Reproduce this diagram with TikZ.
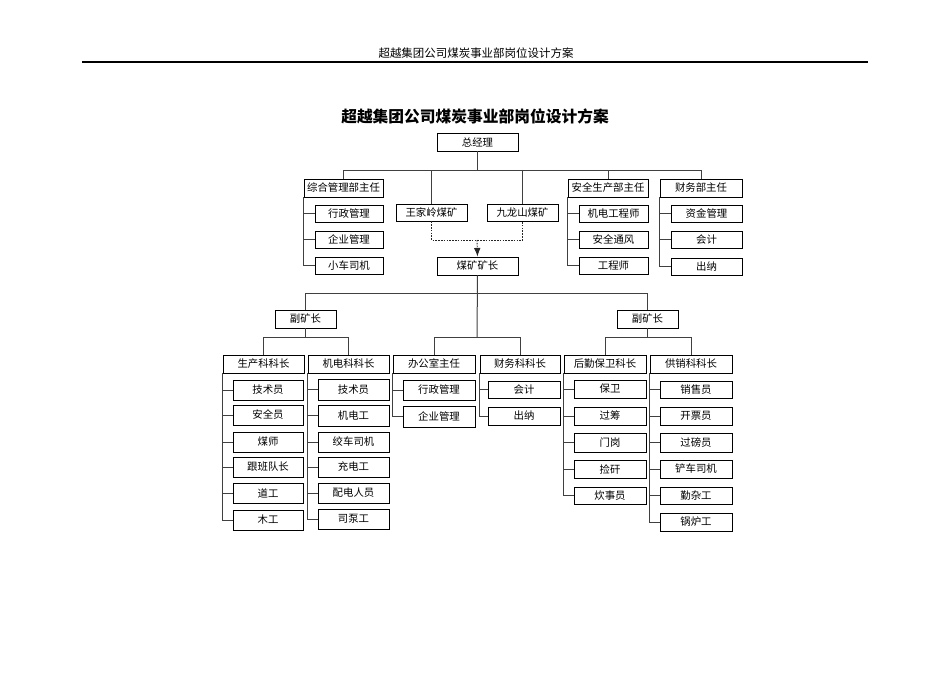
\documentclass[tikz,border=0pt]{standalone}
\usepackage{fontspec}
\setmainfont{Noto Sans CJK SC}
\usetikzlibrary{arrows.meta}
\tikzset{
  bx/.style={draw=black, line width=0.6pt, inner sep=0pt, font=\fontsize{7.8}{9}\selectfont, fill=white},
  cn/.style={draw=black!75, line width=0.75pt},
  dsh/.style={draw=black!85, line width=0.65pt, dash pattern=on 1.2pt off 0.9pt},
}
\newcommand\bx[6]{\node[bx, minimum width={(#4-#2)*0.75pt}, minimum height={(#5-#3)*0.75pt}] (#1) at ({(#2+#4)/2},{(#3+#5)/2}) {#6};}
\newcommand\grp[2]{% parent, list of children
  \foreach \c in {#2}{\draw[cn] (#1.south west |- \c.west) -- (\c.west);}
}
\begin{document}
\begin{tikzpicture}[x=0.75pt,y=-0.75pt]
\useasboundingbox (0,0) rectangle (950,672);
% header
\node[font=\fontsize{8.6}{10}\selectfont, inner sep=0pt] (hdr) at (476,53) {超越集团公司煤炭事业部岗位设计方案};
\coordinate (hl) at (82,62); \coordinate (hr) at (868,62);
\draw[line width=0.8pt] (hl) -- (hr);
% title
\node[font=\fontsize{11.8}{14}\selectfont\bfseries, inner sep=0pt] (title) at (475,116) {超越集团公司煤炭事业部岗位设计方案};

% level 1
\bx{zjl}{437}{133}{518}{151}{总经理}
\bx{zh}{304}{179}{383}{197}{综合管理部主任}
\bx{zh1}{315}{205}{383}{222}{行政管理}
\bx{zh2}{315}{231}{383}{248}{企业管理}
\bx{zh3}{315}{257}{383}{274}{小车司机}
\bx{wjl}{396}{204}{467}{221}{王家岭煤矿}
\bx{jls}{487}{204}{558}{221}{九龙山煤矿}
\bx{mk}{437}{257}{518}{275}{煤矿矿长}
\bx{aq}{568}{179}{648}{197}{安全生产部主任}
\bx{aq1}{579}{205}{648}{222}{机电工程师}
\bx{aq2}{579}{231}{648}{248}{安全通风}
\bx{aq3}{579}{257}{648}{274}{工程师}
\bx{cw}{660}{179}{742}{197}{财务部主任}
\bx{cw1}{671}{205}{742}{222}{资金管理}
\bx{cw2}{671}{231}{742}{248}{会计}
\bx{cw3}{671}{258}{742}{275}{出纳}

% level 2
\bx{fkL}{275}{310}{336}{328}{副矿长}
\bx{fkR}{617}{310}{678}{328}{副矿长}
\bx{sc}{223}{355}{304}{373}{生产科科长}
\bx{sc1}{233}{380}{303}{400}{技术员}
\bx{sc2}{233}{405}{303}{425}{安全员}
\bx{sc3}{233}{432}{303}{452}{煤师}
\bx{sc4}{233}{457}{303}{477}{跟班队长}
\bx{sc5}{233}{483}{303}{503}{道工}
\bx{sc6}{233}{510}{303}{530}{木工}
\bx{jd}{308}{355}{389}{373}{机电科科长}
\bx{jd1}{318}{379}{389}{400}{技术员}
\bx{jd2}{318}{405}{389}{426}{机电工}
\bx{jd3}{318}{432}{389}{452}{绞车司机}
\bx{jd4}{318}{457}{389}{477}{充电工}
\bx{jd5}{318}{483}{389}{503}{配电人员}
\bx{jd6}{318}{509}{389}{529}{司泵工}
\bx{bg}{393}{355}{475}{373}{办公室主任}
\bx{bg1}{403}{380}{475}{400}{行政管理}
\bx{bg2}{403}{406}{475}{427}{企业管理}
\bx{cwk}{480}{355}{560}{373}{财务科科长}
\bx{cwk1}{488}{381}{560}{398}{会计}
\bx{cwk2}{488}{407}{560}{425}{出纳}
\bx{hq}{564}{355}{646}{373}{后勤保卫科长}
\bx{hq1}{574}{380}{646}{398}{保卫}
\bx{hq2}{574}{407}{646}{425}{过筹}
\bx{hq3}{574}{433}{646}{452}{门岗}
\bx{hq4}{574}{460}{646}{478}{捡矸}
\bx{hq5}{574}{487}{646}{504}{炊事员}
\bx{gx}{650}{355}{732}{373}{供销科科长}
\bx{gx1}{660}{381}{732}{398}{销售员}
\bx{gx2}{660}{407}{732}{425}{开票员}
\bx{gx3}{660}{433}{732}{452}{过磅员}
\bx{gx4}{660}{460}{732}{478}{铲车司机}
\bx{gx5}{660}{487}{732}{504}{勤杂工}
\bx{gx6}{660}{513}{732}{531}{锅炉工}

% buses
\coordinate (b1) at (477,170);
\coordinate (b2) at (477,293);
\coordinate (b3) at (477,337);
\coordinate (bL) at (306,337);
\coordinate (bR) at (648,337);
\coordinate (dl) at (477,240);

% level-1 connectors
\draw[cn] (zjl.south) -- (zjl.south |- b1);
\draw[cn] (zh.north) -- (zh.north |- b1) -- (cw.north |- b1) -- (cw.north);
\draw[cn] (wjl.north) -- (wjl.north |- b1);
\draw[cn] (jls.north) -- (jls.north |- b1);
\draw[cn] (aq.north) -- (aq.north |- b1);
% dashed merge
\draw[dsh] (wjl.south) -- (wjl.south |- dl) -- (jls.south |- dl) -- (jls.south);
\draw[dsh, -{Latex[length=6.5pt,width=5pt]}] (dl) -- (mk.north);
% side groups
\draw[cn] (zh.south west) |- (zh3.west); \grp{zh}{zh1,zh2}
\draw[cn] (aq.south west) |- (aq3.west); \grp{aq}{aq1,aq2}
\draw[cn] (cw.south west) |- (cw3.west); \grp{cw}{cw1,cw2}

% level-2 connectors
\draw[cn] (mk.south) -- (b3);
\draw[cn] (fkL.north) -- (fkL.north |- b2) -- (fkR.north |- b2) -- (fkR.north);
\draw[cn] (bg.north) -- (bg.north |- b3) -- (cwk.north |- b3) -- (cwk.north);
\draw[cn] (fkL.south) -- (fkL.south |- bL);
\draw[cn] (sc.north) -- (sc.north |- bL) -- (jd.north |- bL) -- (jd.north);
\draw[cn] (fkR.south) -- (fkR.south |- bR);
\draw[cn] (hq.north) -- (hq.north |- bR) -- (gx.north |- bR) -- (gx.north);

\draw[cn] (sc.south west) |- (sc6.west); \grp{sc}{sc1,sc2,sc3,sc4,sc5}
\draw[cn] (jd.south west) |- (jd6.west); \grp{jd}{jd1,jd2,jd3,jd4,jd5}
\draw[cn] (bg.south west) |- (bg2.west); \grp{bg}{bg1}
\draw[cn] (cwk.south west) |- (cwk2.west); \grp{cwk}{cwk1}
\draw[cn] (hq.south west) |- (hq5.west); \grp{hq}{hq1,hq2,hq3,hq4}
\draw[cn] (gx.south west) |- (gx6.west); \grp{gx}{gx1,gx2,gx3,gx4,gx5}
\end{tikzpicture}
\end{document}
